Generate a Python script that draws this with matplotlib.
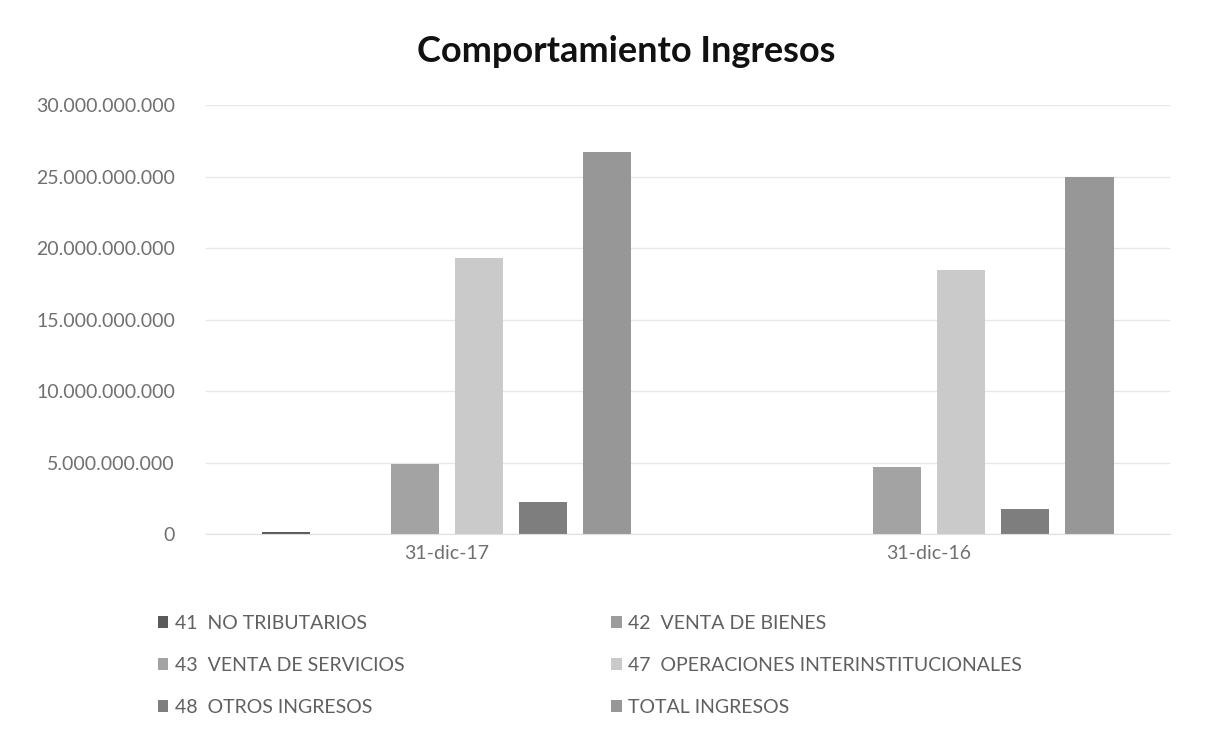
import matplotlib
matplotlib.use("Agg")
import matplotlib.pyplot as plt
import numpy as np
from matplotlib.ticker import FuncFormatter

categories = ["31-dic-17", "31-dic-16"]
series_labels = [
    "41  NO TRIBUTARIOS",
    "42  VENTA DE BIENES",
    "43  VENTA DE SERVICIOS",
    "47  OPERACIONES INTERINSTITUCIONALES",
    "48  OTROS INGRESOS",
    "TOTAL INGRESOS",
]
v41 = [150_000_000, 0]
v42 = [0, 0]
v43 = [4_900_000_000, 4_700_000_000]
v47 = [19_300_000_000, 18_500_000_000]
v48 = [2_250_000_000, 1_750_000_000]
vtotal = [26_700_000_000, 25_000_000_000]
series_values = [v41, v42, v43, v47, v48, vtotal]
colors = ["#5a5a5a", "#9c9c9c", "#a3a3a3", "#cacaca", "#7e7e7e", "#979797"]

plt.rcParams['font.family'] = ['Lato', 'DejaVu Sans']

fig = plt.figure(figsize=(12.09, 7.40), dpi=100)
ax = fig.add_axes([0.170, 0.278, 0.798, 0.580])

x = np.arange(len(categories))
slot = 0.133
width = 0.1
handles = []
for i, (lab, vals, c) in enumerate(zip(series_labels, series_values, colors)):
    off = (i - 2.5) * slot
    h = ax.bar(x + off, vals, width, color=c, label=lab)
    handles.append(h)

ax.set_xlim(-0.5, 1.5)
ax.set_ylim(0, 30_000_000_000)
ax.set_yticks(np.arange(0, 30_000_000_001, 5_000_000_000))
ax.yaxis.set_major_formatter(FuncFormatter(lambda v, p: f"{int(v):,}".replace(",", ".")))
ax.set_xticks(x)
ax.set_xticklabels(categories)
ax.grid(axis='y', color='#e8e8e8', linewidth=1)
ax.set_axisbelow(True)
for s in ['top', 'right', 'left']:
    ax.spines[s].set_visible(False)
ax.spines['bottom'].set_color('#e0e0e0')
ax.tick_params(axis='both', length=0, labelsize=14, colors='#707070', pad=8)
ax.tick_params(axis='y', pad=22)

fig.suptitle("Comportamiento Ingresos", x=0.518, y=0.953, fontsize=26, fontweight='bold', color='#111111')

order = [0, 2, 4, 1, 3, 5]
leg = fig.legend([handles[i] for i in order], [series_labels[i] for i in order],
                 ncol=2, loc='upper left', bbox_to_anchor=(0.116, 0.193),
                 frameon=False, fontsize=14, labelcolor='#606060',
                 handlelength=0.55, handleheight=0.55, handletextpad=0.35,
                 columnspacing=10.6, labelspacing=1.3)

fig.savefig("out.png", dpi=100, facecolor='white')
